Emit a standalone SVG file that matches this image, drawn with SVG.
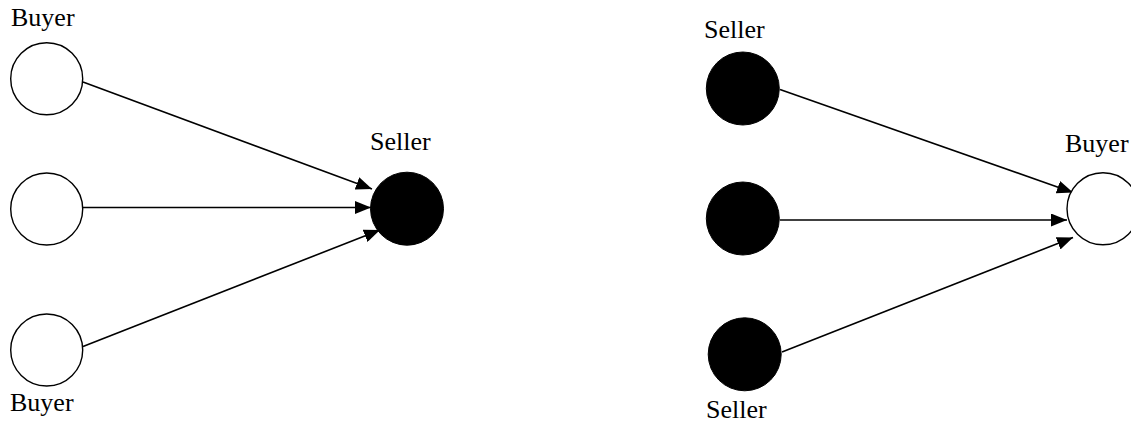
<svg xmlns="http://www.w3.org/2000/svg" width="1131" height="424" viewBox="0 0 1131 424">
<style>
.lbl{font-family:"Liberation Serif","Times New Roman",serif;font-size:26px;fill:#000}
.buyer{fill:#fff;stroke:#000;stroke-width:1.4}
.seller{fill:#000;stroke:#000;stroke-width:1}
.edge{stroke:#000;stroke-width:1.6;fill:none;marker-end:url(#ah)}
</style>
<defs>
<marker id="ah" markerUnits="userSpaceOnUse" markerWidth="17" markerHeight="13" refX="16" refY="6.5" orient="auto">
<path d="M0,0 L16,6.5 L0,13 Z" fill="#000"/>
</marker>
</defs>
<rect width="1131" height="424" fill="#fff"/>
<g id="connectors">
<line class="edge" x1="83" y1="82" x2="372" y2="189"/>
<line class="edge" x1="83" y1="207.5" x2="371" y2="207.5"/>
<line class="edge" x1="83" y1="346.5" x2="380" y2="230"/>
<line class="edge" x1="780" y1="89.5" x2="1073" y2="192.5"/>
<line class="edge" x1="780" y1="220" x2="1067" y2="220"/>
<line class="edge" x1="782" y1="352" x2="1073" y2="237.5"/>
</g>
<g id="buyer-l1"><circle class="buyer" cx="46.7" cy="78.7" r="36"/><text class="lbl" x="11" y="26">Buyer</text></g>
<g id="buyer-l2"><circle class="buyer" cx="46.7" cy="209" r="36"/></g>
<g id="buyer-l3"><circle class="buyer" cx="46.7" cy="350" r="36"/><text class="lbl" x="10" y="411">Buyer</text></g>
<g id="seller-l"><circle class="seller" cx="407" cy="208.7" r="36.5"/><text class="lbl" x="370" y="150">Seller</text></g>
<g id="seller-r1"><circle class="seller" cx="742.8" cy="88.5" r="36.5"/><text class="lbl" x="704" y="37.5">Seller</text></g>
<g id="seller-r2"><circle class="seller" cx="742.8" cy="218.5" r="36.5"/></g>
<g id="seller-r3"><circle class="seller" cx="744.7" cy="354.3" r="36.5"/><text class="lbl" x="706" y="418">Seller</text></g>
<g id="buyer-r"><circle class="buyer" cx="1103" cy="208.7" r="36"/><text class="lbl" x="1065" y="151.5">Buyer</text></g>
</svg>
